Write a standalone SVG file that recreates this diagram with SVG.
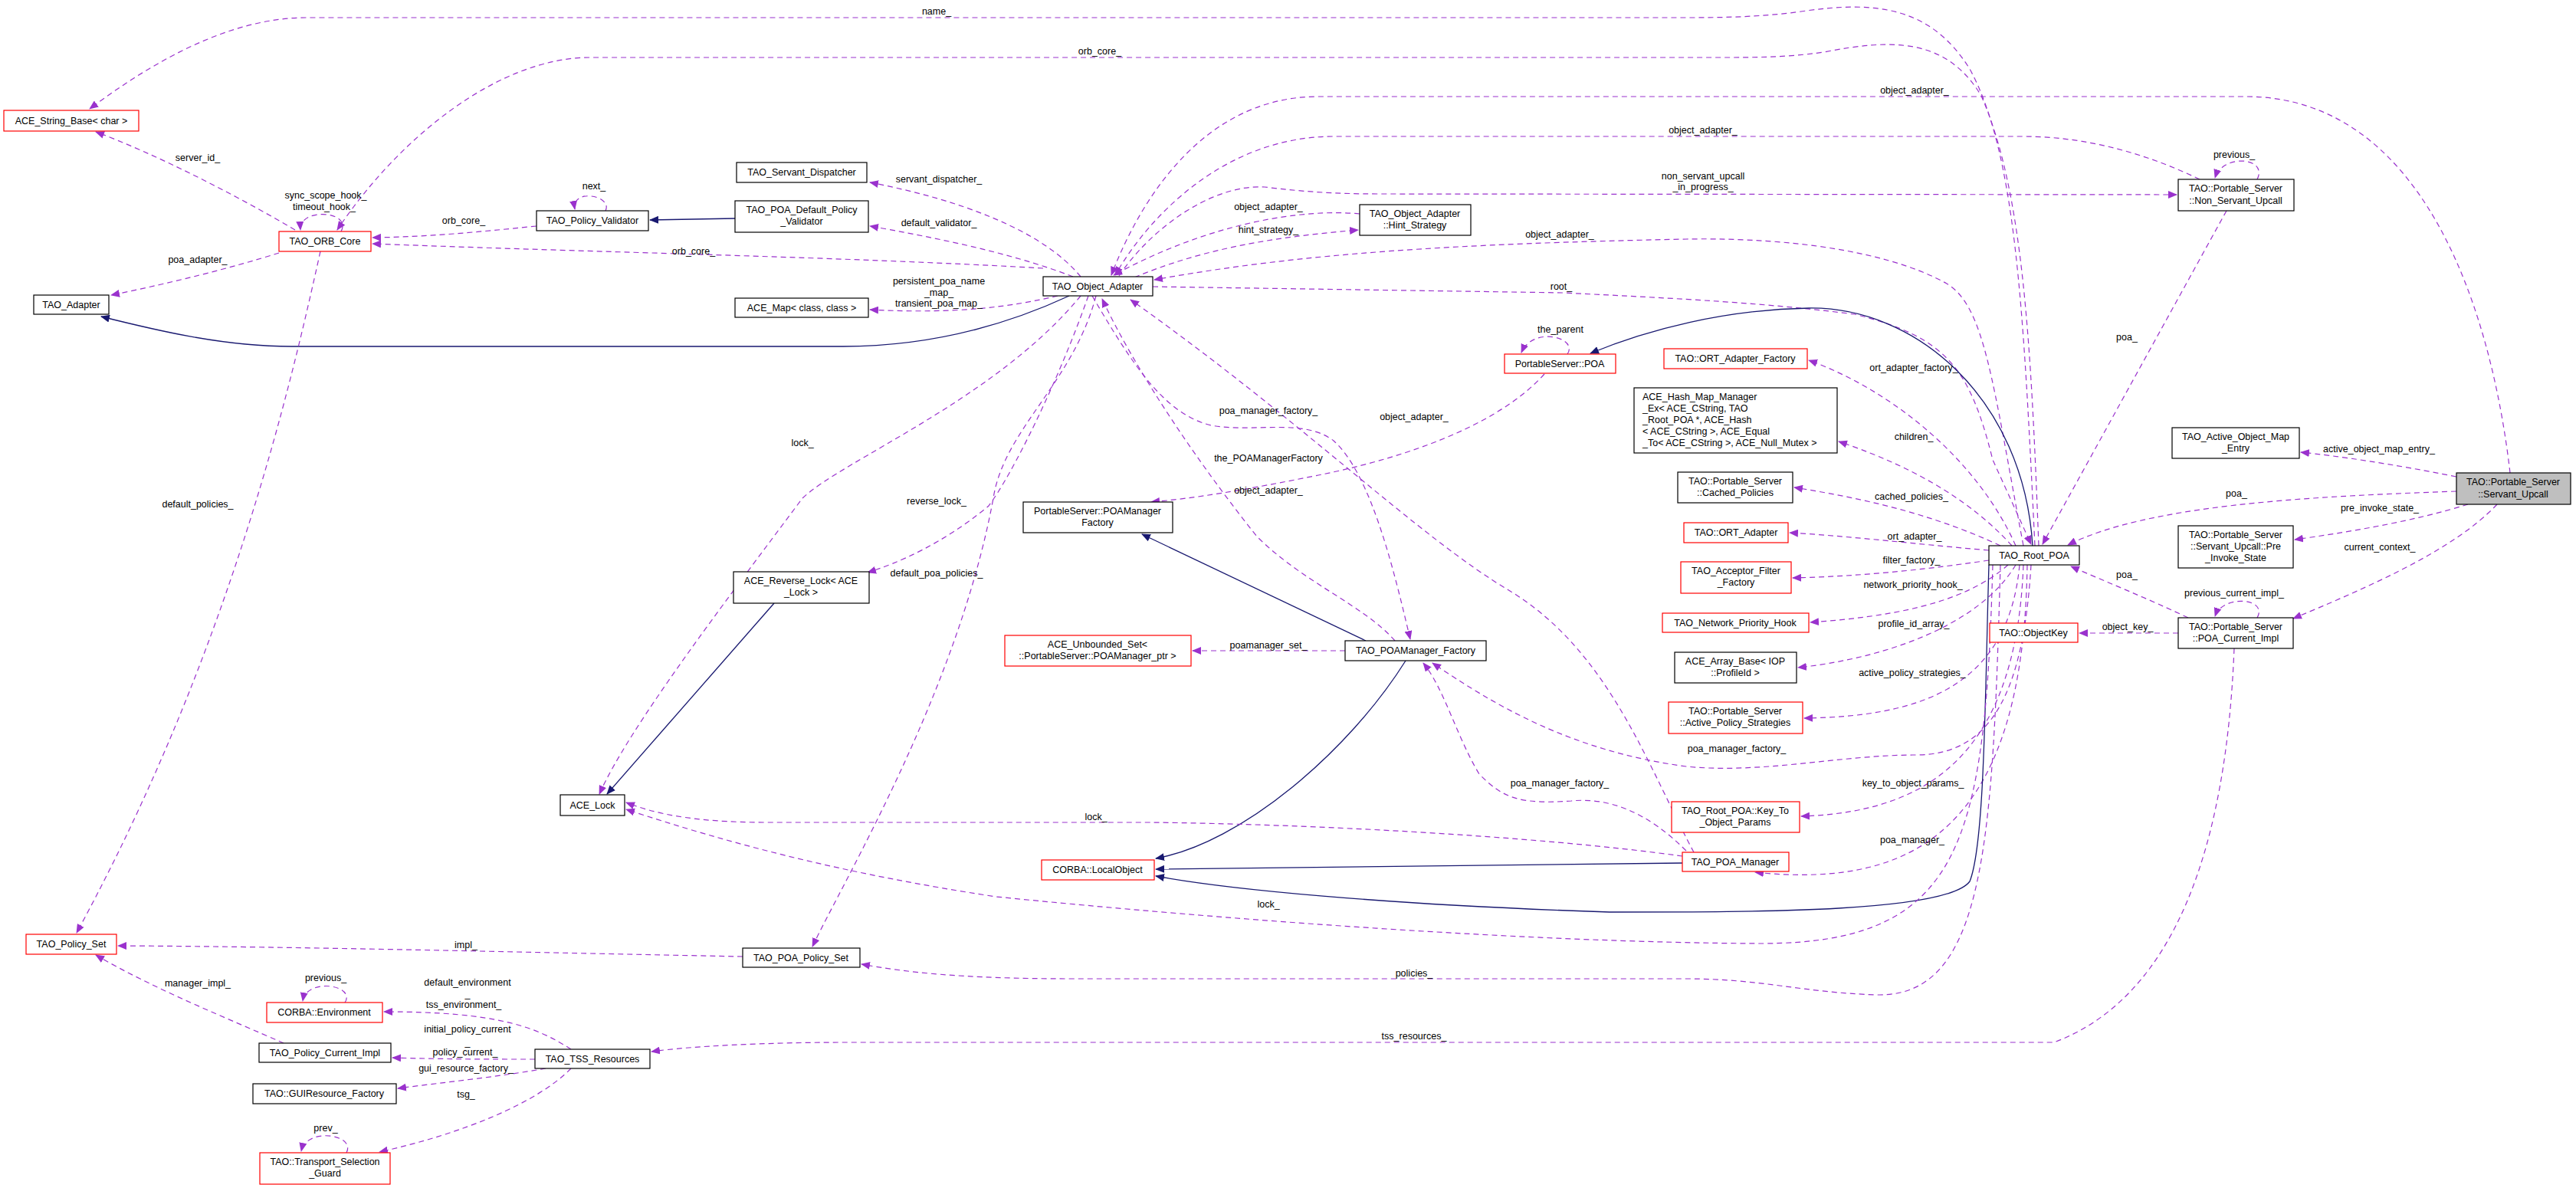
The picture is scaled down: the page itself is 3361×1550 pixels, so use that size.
<svg xmlns="http://www.w3.org/2000/svg" width="3361" height="1550" viewBox="0 0 3361 1550">
<style>
text{font-family:"Liberation Sans",Arial,sans-serif;font-size:12.5px;fill:#000}
.n{text-anchor:middle}
.l{text-anchor:middle}
rect{fill:#fff;stroke:#000;stroke-width:1.2}
rect.r{stroke:#ff0000}
rect.g{fill:#bfbfbf}
rect.bg{stroke:none}
.d{fill:none;stroke:#9a32cd;stroke-width:1.2;stroke-dasharray:7,5;marker-end:url(#pa)}
.s{fill:none;stroke:#191970;stroke-width:1.3;marker-end:url(#na)}
</style>
<defs>
<marker id="pa" viewBox="0 0 12 10" refX="11" refY="5" markerWidth="12" markerHeight="10" markerUnits="userSpaceOnUse" orient="auto"><path d="M0,0 L12,5 L0,10 z" fill="#9a32cd"/></marker>
<marker id="na" viewBox="0 0 12 10" refX="11" refY="5" markerWidth="12" markerHeight="10" markerUnits="userSpaceOnUse" orient="auto"><path d="M0,0 L12,5 L0,10 z" fill="#191970"/></marker>
</defs>
<rect class="bg" width="3361" height="1550"/>
<g id="edges">
<path class="d" d="M2655,712 C2640,400 2630,200 2570,90 C2520,10 2450,0 2350,15 C2300,22 2250,23 2200,23 L400,23 C300,23 200,80 117,142"/>
<path class="d" d="M2660,712 C2650,450 2640,250 2585,125 C2540,50 2470,50 2380,68 C2330,75 2290,75 2240,75 L770,75 C650,75 520,180 440,300"/>
<path class="d" d="M2640,712 C2600,500 2590,400 2540,370 C2450,320 2300,310 2200,312 C1900,318 1700,330 1506,365"/>
<path class="d" d="M1504,374 L2040,382 C2200,390 2300,395 2420,410 C2540,440 2570,480 2600,600 L2650,710"/>
<path class="s" d="M2652,712 C2640,520 2500,400 2360,402 C2250,404 2150,430 2075,461"/>
<path class="d" d="M2045,462 C2060,440 2000,425 1985,460"/>
<path class="d" d="M2630,712 C2580,600 2470,510 2360,470"/>
<path class="d" d="M2625,712 C2560,640 2470,600 2399,576"/>
<path class="d" d="M2610,712 C2520,670 2430,650 2341,636"/>
<path class="d" d="M2595,718 C2500,710 2420,700 2335,695"/>
<path class="d" d="M2595,731 C2500,745 2420,752 2339,754"/>
<path class="d" d="M2620,737 C2560,790 2460,805 2362,812"/>
<path class="d" d="M2630,737 C2580,820 2450,860 2346,871"/>
<path class="d" d="M2635,737 C2620,900 2500,935 2354,937"/>
<path class="d" d="M2640,737 C2630,1000 2500,1060 2350,1065"/>
<path class="d" d="M2645,737 C2640,1080 2500,1160 2290,1138"/>
<path class="d" d="M2905,275 L2665,710"/>
<path class="d" d="M2945,234 C2960,205 2900,200 2890,232"/>
<path class="d" d="M3275,617 C3250,400 3160,126 2930,126 L1720,126 C1560,126 1480,280 1450,359"/>
<path class="d" d="M3205,641 C3000,648 2800,660 2698,711"/>
<path class="d" d="M3205,622 C3120,605 3050,595 3002,590"/>
<path class="d" d="M3220,658 C3150,680 3060,695 2994,704"/>
<path class="d" d="M3258,658 C3200,720 3080,770 2992,807"/>
<path class="d" d="M2870,234 C2800,200 2720,178 2640,178 L1740,178 C1600,178 1500,280 1455,359"/>
<path class="d" d="M1460,360 C1500,300 1580,240 1650,244 C1700,250 1740,253 1800,253 L2840,254"/>
<path class="d" d="M2855,806 C2800,780 2750,760 2702,739"/>
<path class="d" d="M2945,806 C2960,780 2900,775 2890,804"/>
<path class="d" d="M2842,826 L2713,826"/>
<path class="d" d="M2915,846 C2905,1100 2840,1300 2680,1360 L1100,1360 C1000,1360 900,1365 850,1372"/>
<path class="d" d="M1774,279 C1700,272 1580,290 1453,359"/>
<path class="d" d="M1480,362 C1580,320 1680,308 1772,300"/>
<path class="d" d="M1410,361 C1360,300 1250,260 1135,238"/>
<path class="d" d="M1400,361 C1320,330 1220,310 1135,295"/>
<path class="d" d="M1361,350 C1100,335 800,330 486,318"/>
<path class="d" d="M700,295 C620,303 560,309 486,310"/>
<path class="s" d="M959,285 L848,287"/>
<path class="d" d="M790,275 C800,255 745,245 750,273"/>
<path class="d" d="M1380,386 C1320,400 1250,410 1135,404"/>
<path class="s" d="M1395,386 C1300,430 1200,452 1100,452 L380,452 C290,452 200,430 132,413"/>
<path class="d" d="M364,330 C300,350 220,370 145,385"/>
<path class="d" d="M385,300 C300,250 200,200 125,172"/>
<path class="d" d="M445,302 C460,275 390,270 392,300"/>
<path class="d" d="M418,328 C380,500 300,850 100,1217"/>
<path class="d" d="M1410,386 C1300,520 1100,600 1047,650 C950,780 820,950 782,1036"/>
<path class="s" d="M1010,787 L792,1036"/>
<path class="d" d="M1420,386 C1380,500 1320,620 1290,660 C1230,710 1170,735 1132,747"/>
<path class="d" d="M1430,386 C1400,500 1310,560 1296,650 C1250,900 1100,1150 1060,1235"/>
<path class="d" d="M2015,488 C1950,560 1820,600 1720,620 C1620,640 1560,650 1502,655"/>
<path class="d" d="M2210,1112 C2150,1000 2100,850 1970,771 C1850,700 1700,550 1475,391"/>
<path class="d" d="M1820,836 C1780,790 1700,760 1640,700 C1560,600 1480,480 1438,390"/>
<path class="d" d="M1425,386 C1480,480 1520,540 1580,555 C1640,565 1700,545 1740,575 C1790,620 1820,750 1840,834"/>
<path class="s" d="M1782,836 L1490,697"/>
<path class="d" d="M1755,849 L1556,849"/>
<path class="s" d="M1834,862 C1760,980 1620,1100 1508,1120"/>
<path class="d" d="M2200,1110 C2150,1060 2100,1040 2050,1045 C1980,1050 1960,1040 1930,1010 C1900,960 1885,900 1857,865"/>
<path class="d" d="M2650,737 C2640,900 2600,985 2500,985 C2400,985 2300,1010 2200,1000 C2050,980 1950,920 1869,865"/>
<path class="s" d="M2195,1126 L1508,1134"/>
<path class="s" d="M2595,737 C2590,900 2590,1100 2570,1150 C2540,1190 2300,1190 2100,1190 C1800,1180 1600,1160 1508,1143"/>
<path class="d" d="M2195,1117 C2000,1090 1700,1075 1500,1073 L1000,1073 C900,1073 850,1060 817,1047"/>
<path class="d" d="M2600,737 C2590,1100 2560,1230 2300,1231 C2000,1230 1600,1200 1300,1170 C1100,1140 950,1100 817,1056"/>
<path class="d" d="M2610,737 C2600,1100 2590,1300 2450,1298 C2350,1295 2300,1277 2200,1277 L1400,1277 C1250,1277 1180,1268 1124,1258"/>
<path class="d" d="M969,1248 C700,1243 400,1235 154,1234"/>
<path class="d" d="M370,1361 C300,1330 200,1290 125,1246"/>
<path class="d" d="M450,1308 C465,1285 400,1275 395,1306"/>
<path class="d" d="M745,1369 C700,1340 650,1320 501,1320"/>
<path class="d" d="M698,1382 C640,1382 580,1382 512,1380"/>
<path class="d" d="M712,1394 C650,1405 580,1412 519,1420"/>
<path class="d" d="M745,1394 C700,1440 600,1480 495,1503"/>
<path class="d" d="M452,1504 C465,1480 400,1470 393,1502"/>
</g>
<g id="labels">
<text class="l" x="1222" y="19">name_</text>
<text class="l" x="1435" y="71">orb_core_</text>
<text class="l" x="2498" y="122">object_adapter_</text>
<text class="l" x="2222" y="174">object_adapter_</text>
<text class="l" x="2222" y="234">non_servant_upcall</text>
<text class="l" x="2222" y="248">_in_progress_</text>
<text class="l" x="2915" y="206">previous_</text>
<text class="l" x="1225" y="238">servant_dispatcher_</text>
<text class="l" x="1225" y="295">default_validator_</text>
<text class="l" x="1655" y="274">object_adapter_</text>
<text class="l" x="1655" y="304">hint_strategy_</text>
<text class="l" x="2035" y="310">object_adapter_</text>
<text class="l" x="1225" y="371">persistent_poa_name</text>
<text class="l" x="1225" y="386">_map_</text>
<text class="l" x="1225" y="400">transient_poa_map_</text>
<text class="l" x="2037" y="378">root_</text>
<text class="l" x="2036" y="434">the_parent</text>
<text class="l" x="1655" y="540">poa_manager_factory_</text>
<text class="l" x="1845" y="548">object_adapter_</text>
<text class="l" x="1655" y="602">the_POAManagerFactory</text>
<text class="l" x="1655" y="644">object_adapter_</text>
<text class="l" x="1222" y="658">reverse_lock_</text>
<text class="l" x="1222" y="752">default_poa_policies_</text>
<text class="l" x="258" y="210">server_id_</text>
<text class="l" x="425" y="259">sync_scope_hook_</text>
<text class="l" x="423" y="274">timeout_hook_</text>
<text class="l" x="605" y="292">orb_core_</text>
<text class="l" x="775" y="247">next_</text>
<text class="l" x="258" y="343">poa_adapter_</text>
<text class="l" x="905" y="332">orb_core_</text>
<text class="l" x="258" y="662">default_policies_</text>
<text class="l" x="1047" y="582">lock_</text>
<text class="l" x="2775" y="444">poa_</text>
<text class="l" x="2497" y="484">ort_adapter_factory_</text>
<text class="l" x="2497" y="574">children_</text>
<text class="l" x="2494" y="652">cached_policies_</text>
<text class="l" x="2498" y="704">ort_adapter_</text>
<text class="l" x="2494" y="735">filter_factory_</text>
<text class="l" x="2496" y="767">network_priority_hook_</text>
<text class="l" x="3104" y="590">active_object_map_entry_</text>
<text class="l" x="2918" y="648">poa_</text>
<text class="l" x="3105" y="667">pre_invoke_state_</text>
<text class="l" x="3105" y="718">current_context_</text>
<text class="l" x="2775" y="754">poa_</text>
<text class="l" x="2915" y="778">previous_current_impl_</text>
<text class="l" x="2776" y="822">object_key_</text>
<text class="l" x="2497" y="818">profile_id_array_</text>
<text class="l" x="2495" y="882">active_policy_strategies_</text>
<text class="l" x="2266" y="981">poa_manager_factory_</text>
<text class="l" x="2035" y="1026">poa_manager_factory_</text>
<text class="l" x="2496" y="1026">key_to_object_params_</text>
<text class="l" x="2495" y="1100">poa_manager_</text>
<text class="l" x="1655" y="846">poamanager_set_</text>
<text class="l" x="1430" y="1070">lock_</text>
<text class="l" x="1655" y="1184">lock_</text>
<text class="l" x="1845" y="1274">policies_</text>
<text class="l" x="1845" y="1356">tss_resources_</text>
<text class="l" x="608" y="1237">impl_</text>
<text class="l" x="258" y="1287">manager_impl_</text>
<text class="l" x="425" y="1280">previous_</text>
<text class="l" x="610" y="1286">default_environment</text>
<text class="l" x="610" y="1301">_</text>
<text class="l" x="605" y="1315">tss_environment_</text>
<text class="l" x="610" y="1347">initial_policy_current</text>
<text class="l" x="610" y="1364">_</text>
<text class="l" x="607" y="1377">policy_current_</text>
<text class="l" x="608" y="1398">gui_resource_factory_</text>
<text class="l" x="608" y="1432">tsg_</text>
<text class="l" x="425" y="1476">prev_</text>
</g>
<g id="n_string"><rect class="r" x="5" y="144" width="176" height="27"/><text class="n" x="93" y="162">ACE_String_Base&lt; char &gt;</text></g>
<g id="n_orbcore"><rect class="r" x="364" y="302" width="120" height="26"/><text class="n" x="424" y="319">TAO_ORB_Core</text></g>
<g id="n_policyvalidator"><rect x="700" y="275" width="146" height="26"/><text class="n" x="773" y="292">TAO_Policy_Validator</text></g>
<g id="n_servantdisp"><rect x="961" y="212" width="170" height="26"/><text class="n" x="1046" y="229">TAO_Servant_Dispatcher</text></g>
<g id="n_defpolval"><rect x="959" y="262" width="174" height="41"/><text class="n" x="1046" y="278">TAO_POA_Default_Policy</text><text class="n" x="1046" y="293">_Validator</text></g>
<g id="n_adapter"><rect x="44" y="385" width="98" height="25"/><text class="n" x="93" y="402">TAO_Adapter</text></g>
<g id="n_acemap"><rect x="959" y="389" width="174" height="25"/><text class="n" x="1046" y="406">ACE_Map&lt; class, class &gt;</text></g>
<g id="n_objadapter"><rect x="1361" y="361" width="143" height="25"/><text class="n" x="1432" y="378">TAO_Object_Adapter</text></g>
<g id="n_hint"><rect x="1774" y="267" width="145" height="40"/><text class="n" x="1846" y="283">TAO_Object_Adapter</text><text class="n" x="1846" y="298">::Hint_Strategy</text></g>
<g id="n_nonservant"><rect x="2842" y="234" width="151" height="41"/><text class="n" x="2917" y="250">TAO::Portable_Server</text><text class="n" x="2917" y="266">::Non_Servant_Upcall</text></g>
<g id="n_poa"><rect class="r" x="1963" y="462" width="145" height="25"/><text class="n" x="2035" y="479">PortableServer::POA</text></g>
<g id="n_ortfactory"><rect class="r" x="2171" y="455" width="187" height="26"/><text class="n" x="2264" y="472">TAO::ORT_Adapter_Factory</text></g>
<g id="n_hashmap"><rect x="2132" y="506" width="265" height="85"/>
<text x="2143" y="522">ACE_Hash_Map_Manager</text><text x="2143" y="537">_Ex&lt; ACE_CString, TAO</text><text x="2143" y="552">_Root_POA *, ACE_Hash</text><text x="2143" y="567">&lt; ACE_CString &gt;, ACE_Equal</text><text x="2143" y="582">_To&lt; ACE_CString &gt;, ACE_Null_Mutex &gt;</text></g>
<g id="n_cached"><rect x="2189" y="616" width="150" height="40"/><text class="n" x="2264" y="632">TAO::Portable_Server</text><text class="n" x="2264" y="647">::Cached_Policies</text></g>
<g id="n_ortadapter"><rect class="r" x="2197" y="682" width="136" height="26"/><text class="n" x="2265" y="699">TAO::ORT_Adapter</text></g>
<g id="n_acceptor"><rect class="r" x="2193" y="733" width="144" height="41"/><text class="n" x="2265" y="749">TAO_Acceptor_Filter</text><text class="n" x="2265" y="764">_Factory</text></g>
<g id="n_nph"><rect class="r" x="2169" y="800" width="191" height="25"/><text class="n" x="2264" y="817">TAO_Network_Priority_Hook</text></g>
<g id="n_arraybase"><rect x="2185" y="851" width="159" height="40"/><text class="n" x="2264" y="867">ACE_Array_Base&lt; IOP</text><text class="n" x="2264" y="882">::ProfileId &gt;</text></g>
<g id="n_aps"><rect class="r" x="2177" y="916" width="175" height="41"/><text class="n" x="2264" y="932">TAO::Portable_Server</text><text class="n" x="2264" y="947">::Active_Policy_Strategies</text></g>
<g id="n_keyto"><rect class="r" x="2181" y="1046" width="167" height="40"/><text class="n" x="2264" y="1062">TAO_Root_POA::Key_To</text><text class="n" x="2264" y="1077">_Object_Params</text></g>
<g id="n_poamanager"><rect class="r" x="2195" y="1112" width="139" height="25"/><text class="n" x="2264" y="1129">TAO_POA_Manager</text></g>
<g id="n_rootpoa"><rect x="2595" y="712" width="118" height="25"/><text class="n" x="2654" y="729">TAO_Root_POA</text></g>
<g id="n_objectkey"><rect class="r" x="2596" y="813" width="115" height="25"/><text class="n" x="2653" y="830">TAO::ObjectKey</text></g>
<g id="n_aome"><rect x="2834" y="558" width="166" height="40"/><text class="n" x="2917" y="574">TAO_Active_Object_Map</text><text class="n" x="2917" y="589">_Entry</text></g>
<g id="n_servantupcall"><rect class="g" x="3205" y="617" width="149" height="41"/><text class="n" x="3279" y="633">TAO::Portable_Server</text><text class="n" x="3279" y="649">::Servant_Upcall</text></g>
<g id="n_preinvoke"><rect x="2842" y="686" width="150" height="55"/><text class="n" x="2917" y="702">TAO::Portable_Server</text><text class="n" x="2917" y="717">::Servant_Upcall::Pre</text><text class="n" x="2917" y="732">_Invoke_State</text></g>
<g id="n_currentimpl"><rect x="2842" y="806" width="150" height="40"/><text class="n" x="2917" y="822">TAO::Portable_Server</text><text class="n" x="2917" y="837">::POA_Current_Impl</text></g>
<g id="n_poamfactory_iface"><rect x="1335" y="655" width="195" height="40"/><text class="n" x="1432" y="671">PortableServer::POAManager</text><text class="n" x="1432" y="686">Factory</text></g>
<g id="n_reverselock"><rect x="957" y="746" width="177" height="41"/><text class="n" x="1045" y="762">ACE_Reverse_Lock&lt; ACE</text><text class="n" x="1045" y="777">_Lock &gt;</text></g>
<g id="n_unbounded"><rect class="r" x="1311" y="829" width="243" height="40"/><text class="n" x="1432" y="845">ACE_Unbounded_Set&lt;</text><text class="n" x="1432" y="860">::PortableServer::POAManager_ptr &gt;</text></g>
<g id="n_poamfactory"><rect x="1755" y="836" width="184" height="26"/><text class="n" x="1847" y="853">TAO_POAManager_Factory</text></g>
<g id="n_acelock"><rect x="731" y="1037" width="84" height="27"/><text class="n" x="773" y="1055">ACE_Lock</text></g>
<g id="n_localobject"><rect class="r" x="1359" y="1122" width="147" height="26"/><text class="n" x="1432" y="1139">CORBA::LocalObject</text></g>
<g id="n_policyset"><rect class="r" x="34" y="1219" width="118" height="26"/><text class="n" x="93" y="1236">TAO_Policy_Set</text></g>
<g id="n_poapolicyset"><rect x="969" y="1237" width="153" height="25"/><text class="n" x="1045" y="1254">TAO_POA_Policy_Set</text></g>
<g id="n_environment"><rect class="r" x="348" y="1308" width="151" height="26"/><text class="n" x="423" y="1325">CORBA::Environment</text></g>
<g id="n_pcimpl"><rect x="338" y="1361" width="172" height="25"/><text class="n" x="424" y="1378">TAO_Policy_Current_Impl</text></g>
<g id="n_tss"><rect x="698" y="1369" width="150" height="25"/><text class="n" x="773" y="1386">TAO_TSS_Resources</text></g>
<g id="n_gui"><rect x="330" y="1414" width="187" height="26"/><text class="n" x="423" y="1431">TAO::GUIResource_Factory</text></g>
<g id="n_tsg"><rect class="r" x="339" y="1504" width="170" height="41"/><text class="n" x="424" y="1520">TAO::Transport_Selection</text><text class="n" x="424" y="1535">_Guard</text></g>
</svg>
